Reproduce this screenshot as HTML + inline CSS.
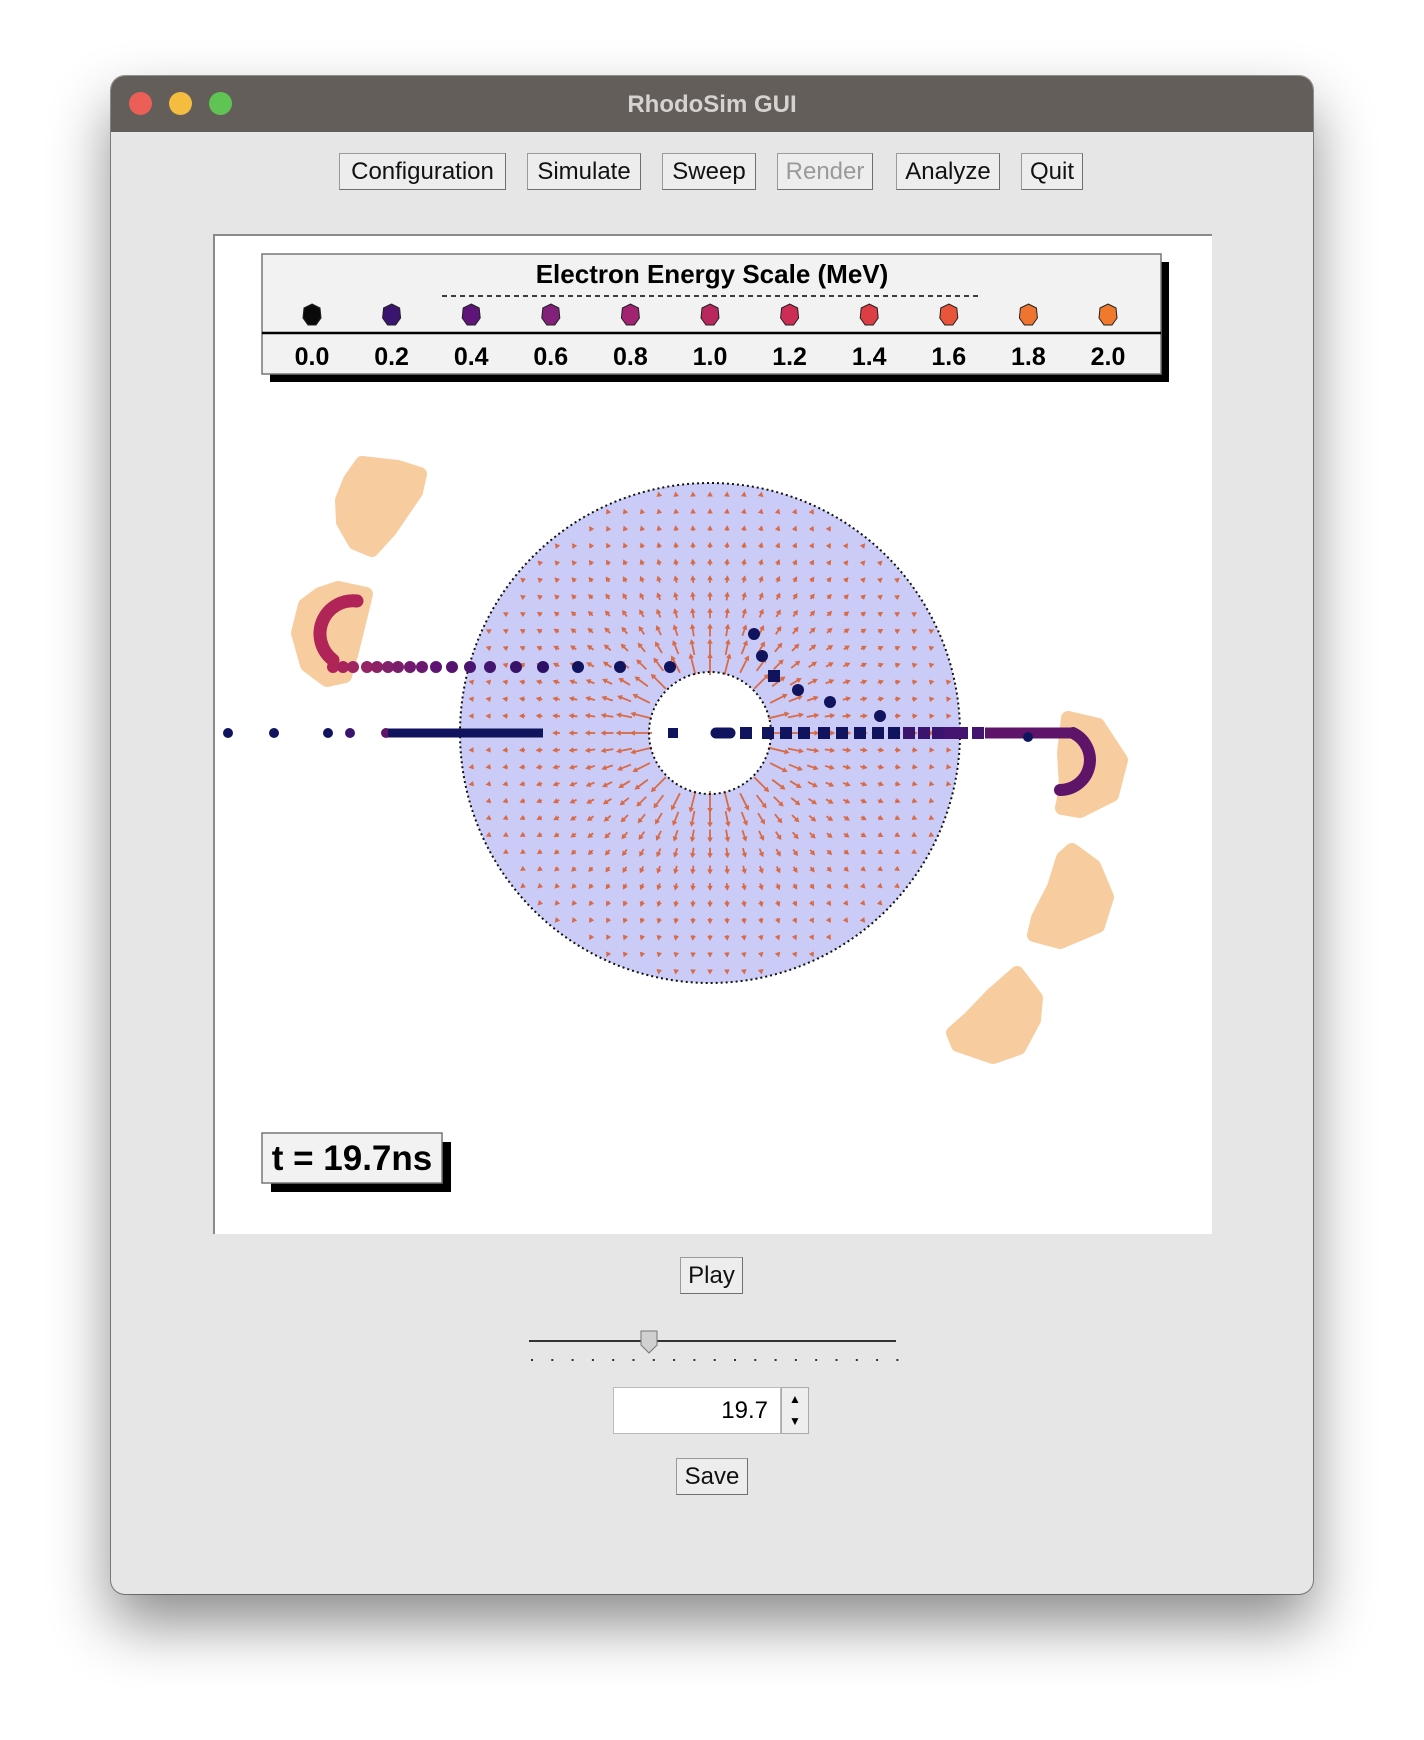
<!DOCTYPE html>
<html><head><meta charset="utf-8">
<style>
html,body{margin:0;padding:0;background:#fff;width:1424px;height:1740px;overflow:hidden;font-family:"Liberation Sans",sans-serif;}
#win{position:absolute;left:111px;top:76px;width:1202px;height:1518px;background:#e6e6e6;border-radius:14px;box-shadow:0 30px 60px rgba(0,0,0,0.45),0 0 0 1px #999;overflow:hidden;}
#titlebar{position:absolute;left:0;top:0;width:100%;height:56px;background:#645e5a;}
#titlebar .t{position:absolute;width:100%;text-align:center;top:15px;color:#d6d2cf;font-weight:bold;font-size:24px;}
.light{position:absolute;top:16px;width:23px;height:23px;border-radius:50%;}
.btn{position:absolute;top:77px;height:37px;box-sizing:border-box;border:1px solid #9a9a9a;border-right-color:#6f6f6f;border-bottom-color:#6f6f6f;background:#ededed;font-size:24px;text-align:center;line-height:35px;color:#111;}
#plot{position:absolute;left:102px;top:158px;width:999px;height:1000px;}
</style></head><body>
<div id="win">
 <div id="titlebar">
  <div class="light" style="left:18px;background:#ec5f57"></div>
  <div class="light" style="left:58px;background:#f4bd40"></div>
  <div class="light" style="left:98px;background:#5fc454"></div>
  <div class="t">RhodoSim GUI</div>
 </div>
 <div class="btn" style="left:228px;width:167px">Configuration</div>
 <div class="btn" style="left:416px;width:114px">Simulate</div>
 <div class="btn" style="left:551px;width:94px">Sweep</div>
 <div class="btn" style="left:666px;width:96px;color:#9a9a9a">Render</div>
 <div class="btn" style="left:785px;width:104px">Analyze</div>
 <div class="btn" style="left:910px;width:62px">Quit</div>

 <svg id="plot" width="999" height="1000" viewBox="213 234 999 1000">
  <rect x="213" y="234" width="999" height="1000" fill="#fff"/>
  <path d="M214 1234 V235 H1212" stroke="#8a8a8a" stroke-width="2" fill="none"/>
  <rect x="270" y="262" width="899" height="120" fill="#000"/>
  <rect x="262" y="254" width="899" height="120" fill="#f2f2f2" stroke="#777" stroke-width="1.5"/>
  <line x1="262" y1="333" x2="1161" y2="333" stroke="#000" stroke-width="2.5"/>
  <text x="712" y="283" text-anchor="middle" font-weight="bold" font-size="26" font-family="Liberation Sans, sans-serif">Electron Energy Scale (MeV)</text>
  <line x1="442" y1="296" x2="978" y2="296" stroke="#000" stroke-width="1.5" stroke-dasharray="5,4"/>
  <g id="legendG"></g>
  <g fill="#f7cd9f" stroke="#f7cd9f" stroke-width="14" stroke-linejoin="round">
   <polygon points="362,463 398,467 420,474 416,492 390,530 372,550 355,543 343,522 342,500 350,480"/>
   <polygon points="338,588 366,594 358,627 351,655 345,676 327,680 307,665 298,633 305,605 320,594"/>
   <polygon points="1068,718 1098,725 1121,760 1112,795 1080,811 1062,808 1066,787 1064,753"/>
   <polygon points="1072,850 1094,866 1107,897 1098,926 1060,942 1034,935 1038,918 1054,887 1063,858"/>
   <polygon points="1017,973 1036,998 1034,1020 1019,1048 993,1057 958,1045 953,1033 970,1018 992,995"/>
  </g>
  <path d="M460,733 a250,250 0 1,0 500,0 a250,250 0 1,0 -500,0 Z M649,733 a61,61 0 1,0 122,0 a61,61 0 1,0 -122,0 Z" fill="#cbcbf7" fill-rule="evenodd"/>
  <g id="arrows" stroke="#d86a45" fill="#d86a45"></g>
  <circle cx="710" cy="733" r="250" fill="none" stroke="#111" stroke-width="2" stroke-dasharray="2,3"/>
  <circle cx="710" cy="733" r="61" fill="none" stroke="#111" stroke-width="2" stroke-dasharray="2,3"/>
  <g id="tracks"></g>
  <rect x="271" y="1142" width="180" height="50" fill="#000"/>
  <rect x="262" y="1133" width="180" height="50" fill="#f2f2f2" stroke="#777" stroke-width="1.5"/>
  <text x="352" y="1170" text-anchor="middle" font-weight="bold" font-size="35" font-family="Liberation Sans, sans-serif">t = 19.7ns</text>
 </svg>

 <div class="btn" style="left:569px;top:1181px;width:63px">Play</div>
 <svg style="position:absolute;left:400px;top:1240px" width="420" height="50" id="slider">
  <line x1="18" y1="25" x2="385" y2="25" stroke="#333" stroke-width="2"/>
  <path d="M130 15 h16 v14 l-8 8 l-8 -8 Z" fill="#d0d0d0" stroke="#777"/>
 </svg>
 <div style="position:absolute;left:502px;top:1311px;width:168px;height:47px;background:#fff;border:1px solid #bbb;box-sizing:border-box;font-size:24px;text-align:right;padding-right:12px;line-height:45px;">19.7</div>
 <div style="position:absolute;left:670px;top:1311px;width:28px;height:47px;background:#eee;border:1px solid #aaa;box-sizing:border-box;font-size:12px;text-align:center;line-height:22px;">▲<br>▼</div>
 <div class="btn" style="left:565px;top:1382px;width:72px">Save</div>
</div>
<script>
const NS='http://www.w3.org/2000/svg';
const energies=['0.0','0.2','0.4','0.6','0.8','1.0','1.2','1.4','1.6','1.8','2.0'];
const energyColors=['#0a0a0a','#3b1470','#5e1479','#82207a','#a02470','#b8285f','#cc2d55','#dd3d44','#e8553a','#ee7430','#ef7a2e'];
function el(t,a){const e=document.createElementNS(NS,t);for(const k in a)e.setAttribute(k,a[k]);return e;}
const lg=document.getElementById('legendG');
energies.forEach((v,i)=>{
 const x=312+79.6*i;
 const m=el('polygon',{points:`${x},${304} ${x+8},${308} ${x+9},${318} ${x+4},${325} ${x-4},${325} ${x-9},${318} ${x-8},${308}`,fill:energyColors[i],stroke:'#222','stroke-width':1});
 
 
 lg.appendChild(m);
 const t=el('text',{x:x,y:365,'text-anchor':'middle','font-weight':'bold','font-size':25,'font-family':'Liberation Sans, sans-serif'});
 t.textContent=v;
 
 
 lg.appendChild(t);
});
const ag=document.getElementById('arrows');
for(let i=-15;i<=15;i++)for(let j=-15;j<=15;j++){
 const dx=i*17,dy=j*17,r=Math.hypot(dx,dy);
 if(r<66||r>245)continue;
 const L=Math.max(3,Math.min(20,Math.pow(70/r,1.6)*20)),ux=dx/r,uy=dy/r;
 const x0=710+dx-ux*L/2,y0=733+dy-uy*L/2,x1=710+dx+ux*L/2,y1=733+dy+uy*L/2;
 ag.appendChild(el('line',{x1:x0,y1:y0,x2:x1,y2:y1,'stroke-width':1.8}));
 const px=-uy,py=ux;
 ag.appendChild(el('polygon',{points:`${x1+ux*2},${y1+uy*2} ${x1-ux*3+px*2.8},${y1-uy*3+py*2.8} ${x1-ux*3-px*2.8},${y1-uy*3-py*2.8}`,stroke:'none'}));
}
const tg=document.getElementById('tracks');
function dot(x,y,r,c,sq){tg.appendChild(sq?el('rect',{x:x-r,y:y-r,width:2*r,height:2*r,fill:c}):el('circle',{cx:x,cy:y,r:r,fill:c}));}
const navy='#10145e',purp='#5e1469',crim='#b02458';
[228,274,328].forEach(x=>dot(x,733,5,navy));
dot(350,733,5,'#3b1470');dot(386,733,5,purp);
tg.appendChild(el('line',{x1:388,y1:733,x2:543,y2:733,stroke:navy,'stroke-width':9}));
const ux=[333,343,353,367,377,388,398,410,422,436,452,470,490,516,543,578,620,670];
const uc=['#b02458','#a8245c','#a02460','#952264','#8c2166','#822069','#7a1e6c','#70196f','#6a1870','#5e1470','#551470','#4a1470','#421470','#381268','#2c1065','#10145e','#10145e','#10145e'];
ux.forEach((x,i)=>dot(x,667,6,uc[i]));
tg.appendChild(el('path',{d:'M357 601 A33 33 0 0 0 333 660',fill:'none',stroke:crim,'stroke-width':13,'stroke-linecap':'round'}));
[[754,634],[762,656],[798,690],[830,702],[880,716]].forEach(p=>dot(p[0],p[1],6,navy));
dot(774,676,6,navy,true);
tg.appendChild(el('line',{x1:716,y1:733,x2:730,y2:733,stroke:navy,'stroke-width':11,'stroke-linecap':'round'}));
[746,768,786,804,824,842,860,878,894].forEach(x=>dot(x,733,6,navy,true));
dot(673,733,5,navy,true);
[909,924,938,950,962,978].forEach((x,i)=>dot(x,733,6,i<3?'#3b1470':'#451470',true));
tg.appendChild(el('line',{x1:985,y1:733,x2:1073,y2:733,stroke:purp,'stroke-width':11}));
dot(1028,737,5,navy);
tg.appendChild(el('path',{d:'M1073 733 A30 30 0 0 1 1060 790',fill:'none',stroke:purp,'stroke-width':12,'stroke-linecap':'round'}));
const sl=document.getElementById('slider');
for(let k=0;k<19;k++){sl.appendChild(el('rect',{x:20+k*20.3,y:43,width:2,height:2,fill:'#333'}));}
</script>
</body></html>
